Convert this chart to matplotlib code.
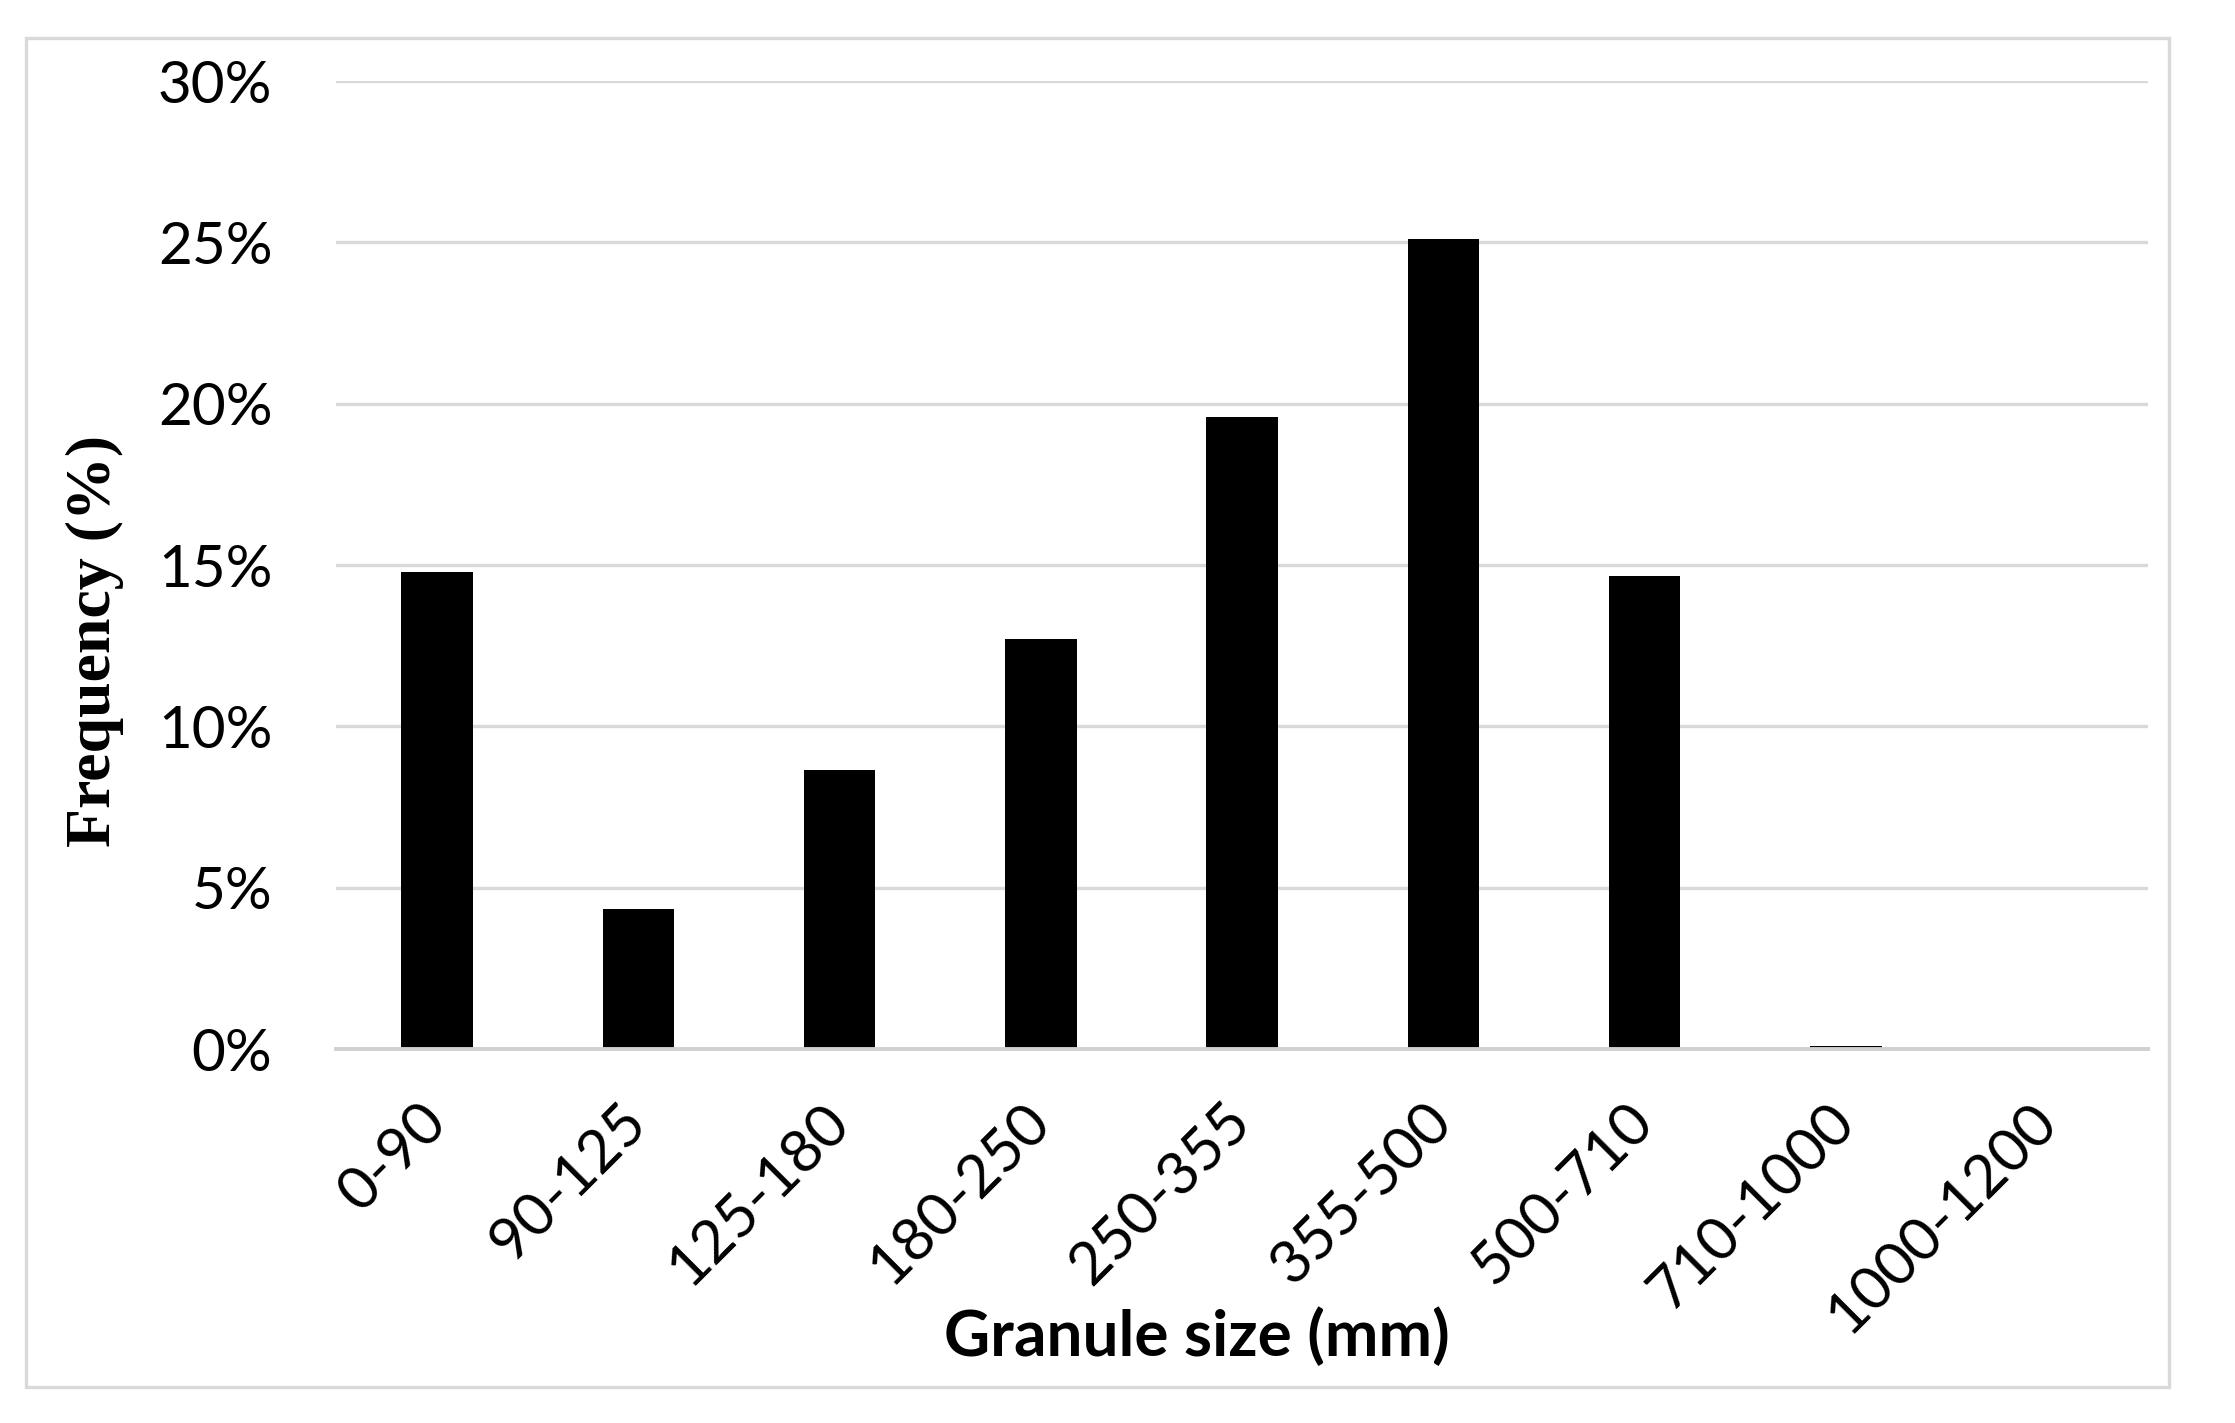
import matplotlib
matplotlib.use("Agg")
import matplotlib.pyplot as plt
from matplotlib.patches import Rectangle
from matplotlib.ticker import FuncFormatter

categories = ["0-90", "90-125", "125-180", "180-250", "250-355", "355-500",
              "500-710", "710-1000", "1000-1200"]
frequency = [14.8, 4.35, 8.65, 12.7, 19.6, 25.1, 14.65, 0.1, 0.0]
y_ticks = [0, 5, 10, 15, 20, 25, 30]

fig = plt.figure(figsize=(22.35, 14.23), dpi=100)
fig.patch.set_facecolor("white")
ax = fig.add_axes([0.1505, 0.2628, 0.8105, 0.6802])

x = list(range(len(categories)))
ax.bar(x, frequency, width=0.355, color="black", zorder=3)

ax.set_xlim(-0.5, len(categories) - 0.5)
ax.set_ylim(0, 30)
ax.set_yticks(y_ticks)
ax.yaxis.set_major_formatter(FuncFormatter(lambda v, p: f"{int(v)}%"))
ax.set_xticks(x)
ax.set_xticklabels(categories, rotation=45, ha="right", va="center",
                   rotation_mode="anchor", fontsize=43, family="Lato")
for lab in ax.get_yticklabels():
    lab.set_fontsize(42)
    lab.set_family("Lato")

ax.tick_params(axis="y", length=0, pad=46)
ax.tick_params(axis="x", length=0, pad=46)
ax.grid(axis="y", color="#d9d9d9", linewidth=2.4, zorder=0)
for s in ["top", "right", "left"]:
    ax.spines[s].set_visible(False)
ax.spines["bottom"].set_color("#d0d0d0")
ax.spines["bottom"].set_linewidth(2.8)
ax.spines["bottom"].set_zorder(4)

fig.text(0.5357, 0.061, "Granule size (mm)", ha="center", va="center",
         fontsize=46, fontweight="bold", family="Lato")
fig.text(0.0425, 0.5495, "Frequency (%)", ha="center", va="center",
         rotation=90, fontsize=46, fontweight="bold", family="Liberation Serif")

fig.patches.append(Rectangle((0.0115, 0.025), 0.959, 0.948,
                             transform=fig.transFigure, fill=False,
                             edgecolor="#d9d9d9", linewidth=2.4))

fig.savefig("out.png", dpi=100, facecolor="white")
